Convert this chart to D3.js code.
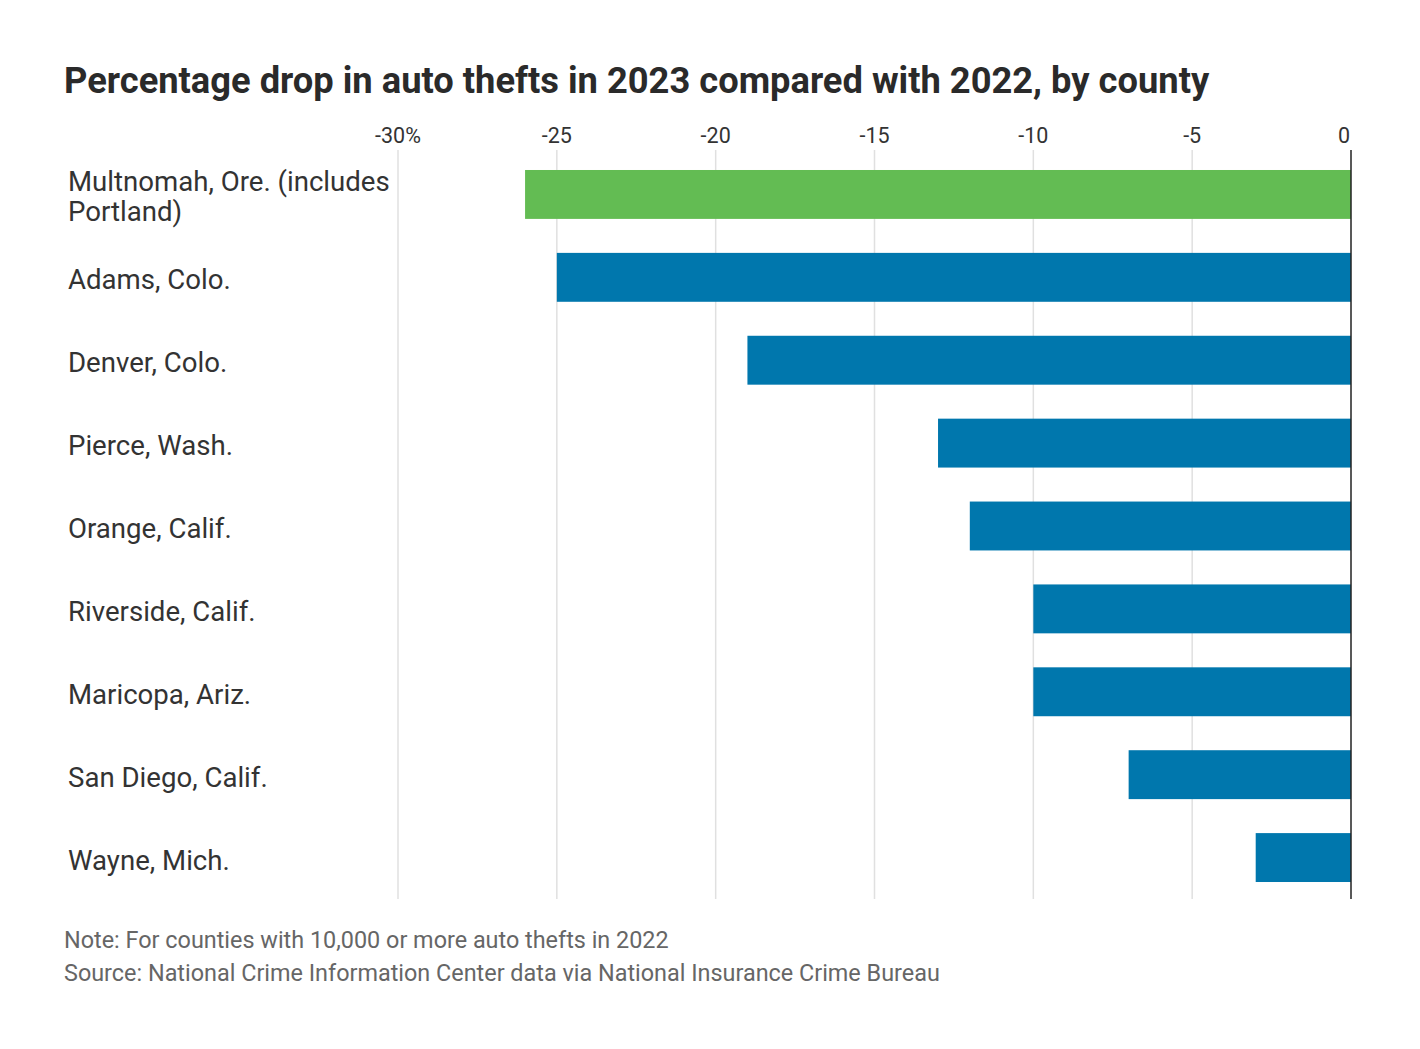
<!DOCTYPE html>
<html>
<head>
<meta charset="utf-8">
<script src="https://cdn.jsdelivr.net/npm/d3@7"></script>
<style>
  body { margin: 0; background: #fff; }
  text { font-family: Roboto, "Noto Sans", sans-serif; }
</style>
</head>
<body>
<svg id="chart" width="1420" height="1049"></svg>
<script>
const counties = [
    ["Multnomah, Ore. (includes", "Portland)"],
    ["Adams, Colo."],
    ["Denver, Colo."],
    ["Pierce, Wash."],
    ["Orange, Calif."],
    ["Riverside, Calif."],
    ["Maricopa, Ariz."],
    ["San Diego, Calif."],
    ["Wayne, Mich."]
];
const changes = [-26, -25, -19, -13, -12, -10, -10, -7, -3];
const highlight = [true, false, false, false, false, false, false, false, false];
const tickValues = [-30, -25, -20, -15, -10, -5, 0];
const tickLabels = ["-30%", "-25", "-20", "-15", "-10", "-5", "0"];

const svg = d3.select("#chart");

const x = d3.scaleLinear().domain([-30, 0]).range([398, 1351]);
const y = d3.scaleBand().domain(d3.range(counties.length)).range([153, 899]).paddingInner(0.41).paddingOuter(0.205);

// title
svg.append("text")
    .attr("x", 64)
    .attr("y", 93)
    .attr("fill", "#2a2a2a")
    .attr("font-size", "36.3px")
    .attr("font-weight", "bold")
    .text("Percentage drop in auto thefts in 2023 compared with 2022, by county");

// gridlines + tick labels
svg.append("g").selectAll("line")
    .data(tickValues.slice(0, -1))
    .join("line")
    .attr("x1", d => x(d))
    .attr("x2", d => x(d))
    .attr("y1", 150)
    .attr("y2", 899)
    .attr("stroke", "#e0e0e0")
    .attr("stroke-width", 1.5);

svg.append("g").selectAll("text")
    .data(tickValues)
    .join("text")
    .attr("x", (d, i) => i === tickValues.length - 1 ? x(d) - 1 : x(d))
    .attr("y", 143)
    .attr("text-anchor", (d, i) => i === tickValues.length - 1 ? "end" : "middle")
    .attr("fill", "#333")
    .attr("font-size", "21.5px")
    .text((d, i) => tickLabels[i]);

// bars
svg.append("g").selectAll("rect")
    .data(changes)
    .join("rect")
    .attr("x", d => x(d))
    .attr("y", (d, i) => y(i))
    .attr("width", d => x(0) - x(d))
    .attr("height", y.bandwidth())
    .attr("fill", (d, i) => highlight[i] ? "#63bc53" : "#0077ad");

// zero line
svg.append("line")
    .attr("x1", x(0))
    .attr("x2", x(0))
    .attr("y1", 150)
    .attr("y2", 899)
    .attr("stroke", "#222")
    .attr("stroke-width", 1.5);

// category labels, one text per line
const lineGap = 30;
svg.append("g").selectAll("g")
    .data(counties)
    .join("g")
    .each(function(lines, i) {
        const top = y(i) + y.bandwidth() / 2 + 12 - (lines.length - 1) * lineGap / 2;
        d3.select(this).selectAll("text")
            .data(lines)
            .join("text")
            .attr("x", 68)
            .attr("y", (d, j) => top + j * lineGap)
            .attr("fill", "#333")
            .attr("font-size", "27.6px")
            .text(d => d);
    });

// footer
svg.append("text")
    .attr("x", 64)
    .attr("y", 948)
    .attr("fill", "#666")
    .attr("font-size", "23.4px")
    .text("Note: For counties with 10,000 or more auto thefts in 2022");

svg.append("text")
    .attr("x", 64)
    .attr("y", 981)
    .attr("fill", "#666")
    .attr("font-size", "23.4px")
    .text("Source: National Crime Information Center data via National Insurance Crime Bureau");
</script>
</body>
</html>
